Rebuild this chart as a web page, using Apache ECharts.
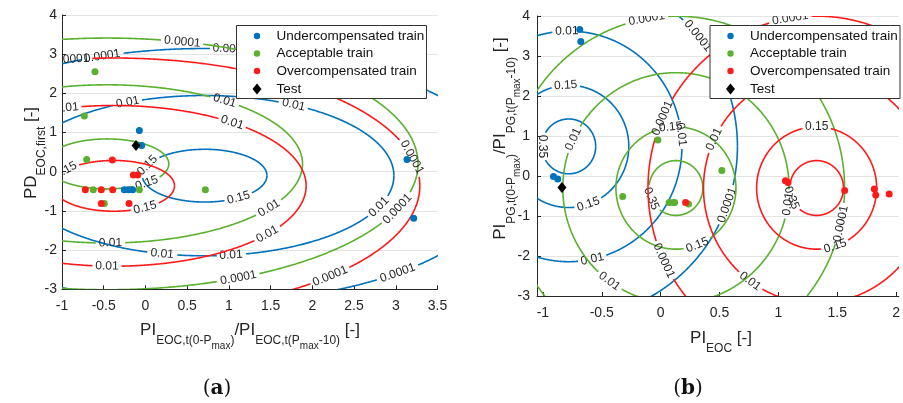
<!DOCTYPE html>
<html>
<head>
<meta charset="utf-8">
<script src="https://cdn.jsdelivr.net/npm/echarts@6/dist/echarts.min.js"></script>
<style>
  html, body { margin: 0; padding: 0; background: #fff; }
  #chart { width: 903px; height: 403px; }
</style>
</head>
<body>
<div id="chart"></div>
<script>
// ---------- class names and tick labels ----------
const classNames = ['Undercompensated train', 'Acceptable train', 'Overcompensated train', 'Test'];
const xTicksA = [-1, -0.5, 0, 0.5, 1, 1.5, 2, 2.5, 3, 3.5];
const xTicksB = [-1, -0.5, 0, 0.5, 1, 1.5, 2];
const yTicks = [-3, -2, -1, 0, 1, 2, 3, 4];

// ---------- density levels drawn as contours ----------
const levelsA = [0.15, 0.01, 0.0001];
const levelsB = [0.35, 0.15, 0.01, 0.0001];

// ---------- panel (a): training / test points ----------
const underA = [[-0.073, 1.05], [-0.045, 0.67], [-0.253, -0.46], [-0.205, -0.46], [-0.153, -0.46], [3.135, 0.31], [3.215, -1.19]];
const acceptA = [[-0.605, 2.55], [-0.732, 1.42], [-0.704, 0.31], [-0.625, -0.46], [-0.073, -0.46], [0.718, -0.46], [-0.493, -0.81]];
const overA = [[-0.397, 0.30], [-0.145, -0.08], [-0.093, -0.08], [-0.72, -0.46], [-0.529, -0.46], [-0.393, -0.46], [-0.529, -0.81], [-0.197, -0.81]];
const testA = [[-0.113, 0.67]];

// ---------- panel (b): training / test points ----------
const underB = [[-0.687, 3.66], [-0.678, 3.36], [-0.91, -0.01], [-0.874, -0.075]];
const acceptB = [[-0.023, 0.90], [-0.322, -0.51], [0.072, -0.66], [0.106, -0.66], [0.119, -0.66], [0.237, -0.70], [0.52, 0.14]];
const overB = [[0.212, -0.66], [1.06, -0.12], [1.082, -0.16], [1.563, -0.36], [1.815, -0.325], [1.827, -0.475], [1.941, -0.45]];
const testB = [[-0.838, -0.285]];

// ---------- fitted class Gaussians (mean, standard deviation) ----------
const meanA = [[0.71, -0.10], [-0.46, 0.20], [-0.38, -0.36]];
const sdA = [[0.92, 0.83], [0.955, 0.823], [0.94, 0.836]];
const meanB = [[-0.78, 0.74], [0.13, -0.30], [1.325, -0.30]];
const sdB = [[0.35, 1.05], [0.35, 1.05], [0.35, 1.05]];

// inline contour-label anchors: angle (deg) on each iso-density ellipse, per class and level
const labelAnglesA = [
  [[157, -57], [114, 62, -23, -82, -103], [110, 85, -50]],
  [[-50], [53, -34, -89], [76, -21, -65]],
  [[142, -59], [104, 52, -37, -92], [98, 13, -45]]
];
const labelAnglesB = [
  [[180], [93, -71], [91, 6, -78], [40, -20]],
  [[-157], [95, -69], [155, -126, -8], [100, -12]],
  [[-159], [90, -72], [155, -126], [99, 156, -155]]
];

// ---------- styles ----------
const classColors = ['#0072BD', '#5BB12F', '#FF1A1A'];
const FONT = '"Liberation Sans", Arial, Helvetica, sans-serif';
const SERIF = '"DejaVu Serif", "Liberation Serif", serif';
const INK = '#262626';
const LABEL_SIZE = 12;
const TICK_SIZE = 14;

const measureCtx = document.createElement('canvas').getContext('2d');
function textWidth(t, size, family, weight) {
  measureCtx.font = (weight || 'normal') + ' ' + size + 'px ' + (family || FONT);
  return measureCtx.measureText(t).width;
}

// one entry per (class, level) iso-density ellipse
function contourList(means, sds, levels, angles) {
  const list = [];
  means.forEach((mu, k) => levels.forEach((lev, j) => {
    list.push({ cls: k, mu: mu, sd: sds[k], level: lev, angles: angles[k][j] });
  }));
  return list;
}

// draws a bivariate normal iso-density line with inline labels cut into it
function contourRenderer(list) {
  return function (params, api) {
    const c = list[params.dataIndex];
    const r2 = -2 * Math.log(c.level * 2 * Math.PI * c.sd[0] * c.sd[1]);
    if (!(r2 > 0)) return null;
    const r = Math.sqrt(r2);
    const N = 1080;
    const pts = [];
    for (let i = 0; i < N; i++) {
      const t = 2 * Math.PI * i / N;
      pts.push(api.coord([c.mu[0] + r * c.sd[0] * Math.cos(t), c.mu[1] + r * c.sd[1] * Math.sin(t)]));
    }
    const s = [0];
    for (let i = 1; i < N; i++) {
      s.push(s[i - 1] + Math.hypot(pts[i][0] - pts[i - 1][0], pts[i][1] - pts[i - 1][1]));
    }
    const L = s[N - 1] + Math.hypot(pts[0][0] - pts[N - 1][0], pts[0][1] - pts[N - 1][1]);
    const text = String(c.level);
    const half = textWidth(text, LABEL_SIZE) / 2 + 2.5;
    const gaps = [];
    const texts = [];
    c.angles.forEach(deg => {
      const idx = Math.round((((deg % 360) + 360) % 360) / 360 * N) % N;
      gaps.push(s[idx]);
      const a = pts[(idx + 2) % N], b = pts[(idx - 2 + N) % N];
      let ang = Math.atan2(a[1] - b[1], a[0] - b[0]);
      if (ang > Math.PI / 2) ang -= Math.PI;
      if (ang < -Math.PI / 2) ang += Math.PI;
      texts.push({
        type: 'text', x: pts[idx][0], y: pts[idx][1], rotation: -ang,
        style: { text: text, fill: INK, fontSize: LABEL_SIZE, fontFamily: FONT, align: 'center', verticalAlign: 'middle' }
      });
    });
    const hidden = i => gaps.some(g => { let d = Math.abs(s[i] - g); d = Math.min(d, L - d); return d < half; });
    let start = 0;
    while (start < N && hidden(start)) start++;
    const segs = [];
    let cur = [];
    for (let k = 0; k <= N; k++) {
      const i = (start + k) % N;
      if (hidden(i)) { if (cur.length > 1) segs.push(cur); cur = []; }
      else cur.push(pts[i]);
    }
    if (cur.length > 1) segs.push(cur);
    const color = classColors[c.cls];
    const lines = segs.map(p => ({
      type: 'polyline', shape: { points: p },
      style: { stroke: color, lineWidth: 1.6, fill: 'none' }
    }));
    return { type: 'group', children: lines.concat(texts) };
  };
}

const contoursA = contourList(meanA, sdA, levelsA, labelAnglesA);
const contoursB = contourList(meanB, sdB, levelsB, labelAnglesB);

// ---------- axes ----------
function xAxisCfg(gridIndex, min, max, ticks) {
  return {
    type: 'value', gridIndex: gridIndex, min: min, max: max,
    axisLine: { onZero: false, lineStyle: { color: INK, width: 1 } },
    axisTick: { inside: true, length: 4, customValues: ticks, lineStyle: { color: INK } },
    axisLabel: { customValues: ticks, margin: 10, color: INK, fontSize: TICK_SIZE, fontFamily: FONT },
    splitLine: { show: false }
  };
}
function yAxisCfg(gridIndex, margin) {
  return {
    type: 'value', gridIndex: gridIndex, min: yTicks[0], max: yTicks[yTicks.length - 1], interval: 1,
    axisLine: { show: true, onZero: false, lineStyle: { color: INK, width: 1 } },
    axisTick: { inside: true, length: 4, lineStyle: { color: INK } },
    axisLabel: { margin: margin, color: INK, fontSize: TICK_SIZE, fontFamily: FONT },
    splitLine: { show: true, lineStyle: { color: '#e4e4e4', width: 1 } }
  };
}

// ---------- series ----------
function scatterSeries(name, data, axis, color, symbol, size) {
  return {
    type: 'scatter', name: name, xAxisIndex: axis, yAxisIndex: axis, data: data,
    symbol: symbol, symbolSize: size, itemStyle: { color: color, opacity: 1 }, z: 3, silent: true
  };
}
function contourSeries(list, axis) {
  return {
    type: 'custom', xAxisIndex: axis, yAxisIndex: axis, clip: true, silent: true, z: 2,
    encode: { x: 0, y: 1 },
    data: list.map(c => c.mu),
    renderItem: contourRenderer(list)
  };
}

// ---------- text with subscript parts ----------
// parts: [text, fontSize, baselineShift, weight, family]
function compositeText(parts, x, y, rotation, fill) {
  const widths = parts.map(p => textWidth(p[0], p[1], p[4], p[3]));
  const total = widths.reduce((a, b) => a + b, 0);
  let cx = -total / 2;
  const children = parts.map((p, i) => {
    const el = {
      type: 'text', x: cx, y: p[2] - 0.35 * p[1],
      style: {
        text: p[0], fontSize: p[1], fontFamily: p[4] || FONT, fontWeight: p[3] || 'normal',
        fill: fill || INK, align: 'left', verticalAlign: 'middle'
      }
    };
    cx += widths[i];
    return el;
  });
  return { type: 'group', x: x, y: y, rotation: rotation || 0, children: children, z: 50 };
}

const M = 17, S = 12, X = 10, dS = 9, dX = 14;
const xTitleA = compositeText([
  ['PI', M, 0], ['EOC,t(0-P', S, dS], ['max', X, dX], [')', S, dS],
  ['/PI', M, 0], ['EOC,t(P', S, dS], ['max', X, dX], ['-10)', S, dS], [' [-]', M, 0]
], 250, 336);
const xTitleB = compositeText([['PI', M, 0], ['EOC', S, dS], [' [-]', M, 0]], 721, 344);
const yTitleA = compositeText([['PD', M, 0], ['EOC,first', S, dS], [' [-]', M, 0]], 37, 153, Math.PI / 2);
const yTitleB = compositeText([
  ['PI', M, 0], ['PG,t(0-P', S, dS], ['max', X, dX], [')', S, dS],
  ['/PI', M, 0], ['PG,t(P', S, dS], ['max', X, dX], ['-10)', S, dS], [' [-]', M, 0]
], 506.5, 138.5, Math.PI / 2);
const panelA = compositeText([['(', 20, 0, 'normal', SERIF], ['a', 20, 0, 'bold', SERIF], [')', 20, 0, 'normal', SERIF]], 217, 396, 0, '#111');
const panelB = compositeText([['(', 20, 0, 'normal', SERIF], ['b', 20, 0, 'bold', SERIF], [')', 20, 0, 'normal', SERIF]], 688, 396, 0, '#111');

// ---------- legend boxes ----------
function legendBox(left, top) {
  const els = [{
    type: 'rect', shape: { x: left + 0.5, y: top + 0.5, width: 190, height: 73 },
    style: { fill: '#fff', stroke: '#333', lineWidth: 1 }, z: 100
  }];
  const rows = [11, 28.5, 46, 64];
  classNames.forEach((name, i) => {
    const y = top + rows[i];
    const mx = left + 21;
    if (i < 3) {
      els.push({ type: 'circle', shape: { cx: mx, cy: y, r: 3.2 }, style: { fill: classColors[i] }, z: 101 });
    } else {
      els.push({ type: 'polygon', shape: { points: [[mx, y - 5.5], [mx + 4.5, y], [mx, y + 5.5], [mx - 4.5, y]] }, style: { fill: '#000' }, z: 101 });
    }
    els.push({
      type: 'text', x: left + 40.5, y: y,
      style: { text: name, fontSize: 13.5, fontFamily: FONT, fill: '#111', align: 'left', verticalAlign: 'middle' }, z: 101
    });
  });
  return els;
}

const option = {
  animation: false,
  backgroundColor: '#fff',
  grid: [
    { left: 62, top: 15, width: 375.5, height: 274.3 },
    { left: 537, top: 16, width: 366, height: 280 }
  ],
  xAxis: [xAxisCfg(0, -1, 3.5, xTicksA), xAxisCfg(1, -1.05, 2.023, xTicksB)],
  yAxis: [yAxisCfg(0, 5), yAxisCfg(1, 7)],
  series: [
    contourSeries(contoursA, 0),
    scatterSeries(classNames[0], underA, 0, classColors[0], 'circle', 7),
    scatterSeries(classNames[1], acceptA, 0, classColors[1], 'circle', 7),
    scatterSeries(classNames[2], overA, 0, classColors[2], 'circle', 7),
    scatterSeries(classNames[3], testA, 0, '#000', 'diamond', [9, 11]),
    contourSeries(contoursB, 1),
    scatterSeries(classNames[0], underB, 1, classColors[0], 'circle', 7),
    scatterSeries(classNames[1], acceptB, 1, classColors[1], 'circle', 7),
    scatterSeries(classNames[2], overB, 1, classColors[2], 'circle', 7),
    scatterSeries(classNames[3], testB, 1, '#000', 'diamond', [9, 11])
  ],
  graphic: [xTitleA, xTitleB, yTitleA, yTitleB, panelA, panelB]
    .concat(legendBox(236, 25))
    .concat(legendBox(709.5, 25))
};

const chart = echarts.init(document.getElementById('chart'), null, { renderer: 'canvas' });
chart.setOption(option);
</script>
</body>
</html>
